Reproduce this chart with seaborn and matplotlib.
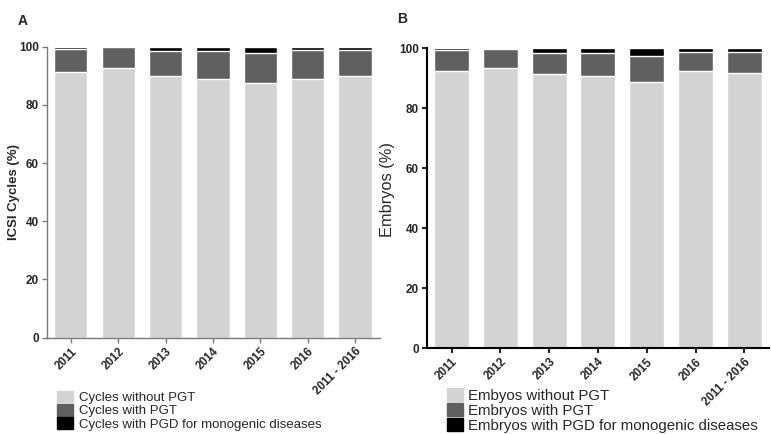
import matplotlib
matplotlib.use("Agg")
import matplotlib.pyplot as plt
from matplotlib.patches import Patch
import seaborn as sb

# data (% of total)
years = ["2011", "2012", "2013", "2014", "2015", "2016", "2011 - 2016"]
cycles_without = [91.3, 92.6, 89.8, 88.8, 87.5, 88.8, 89.8]
cycles_pgt = [8.0, 7.2, 8.7, 9.7, 10.4, 9.9, 9.2]
cycles_pgd = [0.7, 0.3, 1.5, 1.5, 2.1, 1.3, 1.0]
embryos_without = [92.4, 93.5, 91.4, 90.7, 88.8, 92.2, 91.6]
embryos_pgt = [6.9, 6.2, 7.1, 7.8, 8.6, 6.5, 7.1]
embryos_pgd = [0.7, 0.3, 1.5, 1.5, 2.6, 1.3, 1.3]

light = "#d3d3d3"
dark = "#606060"
black = "#000000"

sb.set_style("ticks")
plt.rcParams['font.family'] = ['Liberation Sans', 'DejaVu Sans']

fig = plt.figure(figsize=(7.71, 4.34), dpi=100)
axA = fig.add_axes([0.0606, 0.2219, 0.4324, 0.6705])
axB = fig.add_axes([0.5534, 0.1975, 0.4436, 0.6919])


def stacked(ax, without, pgt, pgd, width):
    top = [a + b + c for a, b, c in zip(without, pgt, pgd)]
    mid = [a + b for a, b in zip(without, pgt)]
    sb.barplot(x=years, y=top, color=black, width=width, saturation=1, ax=ax)
    sb.barplot(x=years, y=mid, color=dark, width=width, saturation=1, ax=ax)
    sb.barplot(x=years, y=without, color=light, width=width, saturation=1, ax=ax)
    ax.set_ylim(0, 100)
    ax.set_yticks([0, 20, 40, 60, 80, 100])
    ax.tick_params(axis='both', length=3.5, width=1, pad=2)
    for lab in ax.get_yticklabels():
        lab.set_fontweight('bold')
        lab.set_fontsize(8.5)
    ax.set_xticks(range(len(years)))
    ax.set_xticklabels(years, rotation=45, ha='right', rotation_mode='anchor',
                       fontweight='bold', fontsize=8.3)
    ax.set_xlabel("")
    for s in ['top', 'right']:
        ax.spines[s].set_visible(False)


stacked(axA, cycles_without, cycles_pgt, cycles_pgd, 0.70)
axA.set_xlim(-0.51, 6.53)
for s in ['left', 'bottom']:
    axA.spines[s].set_color("#7a7a7a")
    axA.spines[s].set_linewidth(1.0)
axA.tick_params(color="#7a7a7a")
axA.set_ylabel("ICSI Cycles (%)", fontweight='bold', fontsize=9.5)
axA.yaxis.set_label_coords(-0.08, 0.5)

stacked(axB, embryos_without, embryos_pgt, embryos_pgd, 0.72)
axB.set_xlim(-0.51, 6.50)
for s in ['left', 'bottom']:
    axB.spines[s].set_color(black)
    axB.spines[s].set_linewidth(1.5)
axB.tick_params(width=1.5)
axB.set_ylabel("Embryos (%)", fontsize=11.8)
axB.yaxis.set_label_coords(-0.093, 0.529)

fig.text(0.0233, 0.967, "A", fontsize=10, fontweight='bold', va='top')
fig.text(0.515, 0.972, "B", fontsize=10, fontweight='bold', va='top')

handles = [Patch(color=light), Patch(color=dark), Patch(color=black)]
fig.legend(handles, ["Cycles without PGT", "Cycles with PGT",
                     "Cycles with PGD for monogenic diseases"],
           loc='upper left', bbox_to_anchor=(0.074, 0.099), frameon=False,
           fontsize=9.5, handlelength=1.2, handleheight=0.95, handletextpad=0.5,
           labelspacing=0.0, borderaxespad=0, borderpad=0)
fig.legend(handles, ["Embyos without PGT", "Embryos with PGT",
                     "Embryos with PGD for monogenic diseases"],
           loc='upper left', bbox_to_anchor=(0.58, 0.106), frameon=False,
           fontsize=10.8, handlelength=1.07, handleheight=1.0, handletextpad=0.33,
           labelspacing=0.0, borderaxespad=0, borderpad=0)

fig.savefig("out.png", dpi=100)
